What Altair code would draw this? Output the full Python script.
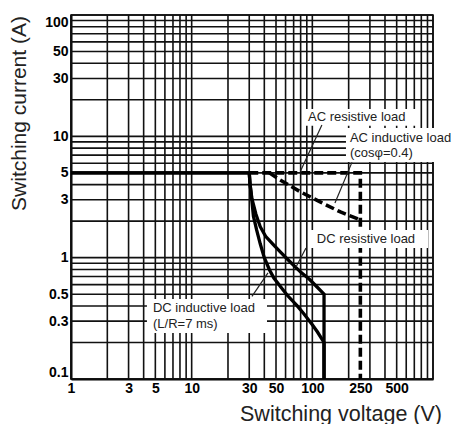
import altair as alt
import pandas as pd

# ---------------- data ----------------
x_grid = [1, 2, 3, 4, 5, 6, 7, 8, 9, 10, 20, 30, 40, 50, 60, 70, 80, 90,
          100, 200, 300, 400, 500, 600, 700, 800, 900, 1000]
y_grid = [0.1, 0.2, 0.3, 0.4, 0.5, 0.6, 0.7, 0.8, 0.9, 1, 2, 3, 4, 5, 6, 7, 8, 9,
          10, 20, 30, 40, 50, 60, 70, 80, 90, 100]
x_ticks = [1, 3, 5, 10, 30, 50, 100, 250, 500]
y_ticks = [0.1, 0.3, 0.5, 1, 3, 5, 10, 30, 50, 100]

dc_res_v = [1, 30, 30.5, 31.5, 34, 37, 41, 47.5, 55, 65, 80, 95, 110, 125, 125]
dc_res_i = [5, 5, 4, 3.1, 2.3, 1.8, 1.5, 1.28, 1.1, 0.93, 0.76, 0.66, 0.57, 0.5, 0.1]
dc_ind_v = [1, 30, 30.5, 31.5, 32.5, 34.5, 37, 40, 44, 48, 55, 62, 75, 85, 100, 110, 125, 125]
dc_ind_i = [5, 5, 4, 3, 2.2, 1.7, 1.3, 1.0, 0.8, 0.68, 0.57, 0.49, 0.40, 0.345, 0.28, 0.245, 0.2, 0.1]
ac_res_v = [30, 250, 250]
ac_res_i = [5, 5, 0.1]
ac_ind_v = [44, 54, 80, 116, 171, 250]
ac_ind_i = [5, 4.37, 3.48, 2.88, 2.38, 2.05]

label_text = ["AC resistive load", "AC inductive load", "(cos\u03c6=0.4)",
              "DC resistive load", "DC inductive load", "(L/R=7 ms)"]
label_v = [92, 205, 205, 109, 4.78, 4.78]
label_i = [14.4, 9.69, 7.29, 1.425, 0.385, 0.284]

box_v1 = [83.7, 190, 97.5, 4.26]
box_v2 = [751, 1436, 909, 42.1]
box_i1 = [16.8, 11.7, 1.69, 0.456]
box_i2 = [12.2, 6.14, 1.20, 0.239]

lead_v1 = [120, 213, 88.6, 31.6]
lead_i1 = [12.4, 6.1, 1.2, 0.48]
lead_v2 = [80, 154, 73.2, 42.9]
lead_i2 = [5.2, 2.82, 0.838, 0.75]

# ---------------- tables ----------------
def series(name, vals_v, vals_i):
    return pd.DataFrame({"series": name, "ord": list(range(len(vals_v))),
                         "V": vals_v, "I": vals_i})

dc = pd.concat([series("DC resistive", dc_res_v, dc_res_i),
                series("DC inductive", dc_ind_v, dc_ind_i)])
ac = pd.concat([series("AC resistive", ac_res_v, ac_res_i),
                series("AC inductive", ac_ind_v, ac_ind_i)])
gx = pd.DataFrame({"V": x_grid})
gy = pd.DataFrame({"I": y_grid})
labels = pd.DataFrame({"V": label_v, "I": label_i, "t": label_text})
boxes = pd.DataFrame({"V": box_v1, "V2": box_v2, "I": box_i1, "I2": box_i2})
leads = pd.DataFrame({"V": lead_v1, "V2": lead_v2, "I": lead_i1, "I2": lead_i2})

FONT = "Liberation Sans"
xscale = alt.Scale(type="log", domain=[1, 1000], nice=False)
yscale = alt.Scale(type="log", domain=[0.1, 100], nice=False)

xaxis = alt.Axis(values=x_ticks, format="~g", grid=False, ticks=False,
                 domainColor="black", domainWidth=2,
                 labelFont=FONT, labelFontWeight="bold", labelFontSize=14,
                 labelColor="black", labelPadding=2, labelFlush=False, labelOverlap=False,
                 title="Switching voltage (V)", titleFont=FONT, titleFontSize=21.5,
                 titleFontWeight="normal", titleColor="#222",
                 titleX=269.5, titleY=41, titleAlign="center", titleBaseline="alphabetic")
yaxis = alt.Axis(values=y_ticks, format="~g", grid=False, ticks=False,
                 domainColor="black", domainWidth=2,
                 labelFont=FONT, labelFontWeight="bold", labelFontSize=14,
                 labelColor="black", labelPadding=3, labelFlush=True, labelOverlap=False,
                 title="Switching current (A)", titleFont=FONT, titleFontSize=21,
                 titleFontWeight="normal", titleColor="#222", titleAngle=270,
                 titleX=-52, titleY=98, titleAlign="center", titleBaseline="middle")

X = alt.X("V:Q", scale=xscale, axis=xaxis)
Y = alt.Y("I:Q", scale=yscale, axis=yaxis)

vgrid = alt.Chart(gx).mark_rule(color="#111", strokeWidth=1.6).encode(x=X)
hgrid = alt.Chart(gy).mark_rule(color="#111", strokeWidth=1.6).encode(y=Y)

dc_lines = alt.Chart(dc).mark_line(color="black", strokeWidth=3.3, strokeJoin="miter").encode(
    x=X, y=Y, detail="series:N", order="ord:Q")
ac_lines = alt.Chart(ac).mark_line(color="black", strokeWidth=3.6, strokeDash=[9, 4]).encode(
    x=X, y=Y, detail="series:N", order="ord:Q")

box_layer = alt.Chart(boxes).mark_rect(color="white").encode(
    x=X, x2="V2:Q", y=Y, y2="I2:Q")
lead_layer = alt.Chart(leads).mark_rule(color="#222", strokeWidth=1.2).encode(
    x=X, x2="V2:Q", y=Y, y2="I2:Q")
text_layer = alt.Chart(labels).mark_text(font=FONT, fontSize=13, color="#222",
                                         align="left", baseline="middle").encode(
    x=X, y=Y, text="t:N")

chart = alt.layer(vgrid, hgrid, dc_lines, ac_lines, box_layer, lead_layer, text_layer).properties(
    width=362, height=364,
    padding={"left": 63, "top": 7, "right": 19, "bottom": 45},
    autosize=alt.AutoSizeParams(type="none"),
    background="white",
).configure_view(stroke="black", strokeWidth=1.5)

chart.save("out.html", embed_options={"renderer": "svg", "actions": False})
